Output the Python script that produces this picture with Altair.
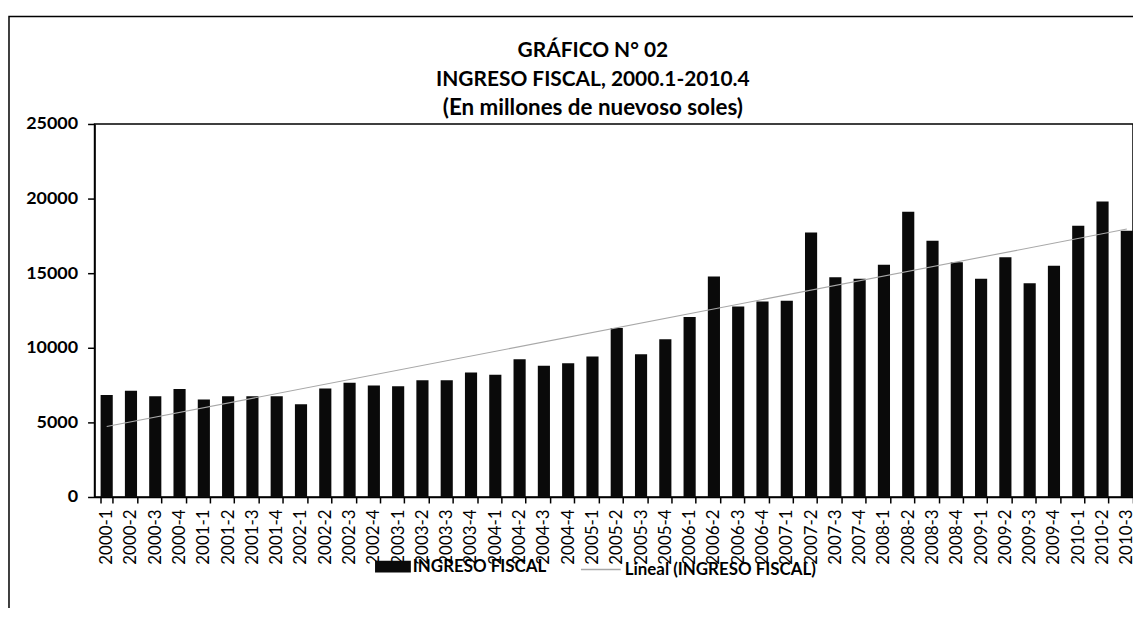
import altair as alt
import pandas as pd

periodos = [
    "2000-1", "2000-2", "2000-3", "2000-4",
    "2001-1", "2001-2", "2001-3", "2001-4",
    "2002-1", "2002-2", "2002-3", "2002-4",
    "2003-1", "2003-2", "2003-3", "2003-4",
    "2004-1", "2004-2", "2004-3", "2004-4",
    "2005-1", "2005-2", "2005-3", "2005-4",
    "2006-1", "2006-2", "2006-3", "2006-4",
    "2007-1", "2007-2", "2007-3", "2007-4",
    "2008-1", "2008-2", "2008-3", "2008-4",
    "2009-1", "2009-2", "2009-3", "2009-4",
    "2010-1", "2010-2", "2010-3",
]
ingreso_fiscal = [
    6830, 7120, 6760, 7230,
    6540, 6760, 6760, 6760,
    6210, 7275, 7650, 7475,
    7430, 7830, 7830, 8340,
    8190, 9230, 8790, 8970,
    9410, 11320, 9570, 10570,
    12060, 14770, 12770, 13100,
    13160, 17730, 14730, 14620,
    15570, 19110, 17180, 15730,
    14620, 16060, 14330, 15490,
    18180, 19800, 17840,
]
y_ticks = [0, 5000, 10000, 15000, 20000, 25000]
serie_barras = "INGRESO FISCAL"
serie_linea = "Lineal (INGRESO FISCAL)"
titulo = ["GRÁFICO N° 02", "INGRESO FISCAL, 2000.1-2010.4"]
subtitulo = "(En millones de nuevoso soles)"

df = pd.DataFrame({
    "periodo": periodos,
    "i": list(range(len(periodos))),
    "valor": ingreso_fiscal,
    "serie": [serie_barras] * len(periodos),
})

RANGE = [0, 1050]
FONT = "Lato"

frame = alt.Chart(pd.DataFrame({"a": [0]})).mark_rect(
    fillOpacity=0, stroke="black", strokeWidth=1.5
).encode(
    x=alt.value(-86), x2=alt.value(1200), y=alt.value(-108), y2=alt.value(700)
)

bars = alt.Chart(df).mark_bar().encode(
    x=alt.X(
        "periodo:N", sort=periodos, title=None,
        scale=alt.Scale(range=RANGE, paddingInner=0.5, paddingOuter=0.25),
        axis=alt.Axis(
            labelAngle=270, labelFont=FONT, labelFontSize=17, labelColor="black",
            labelPadding=6, tickBand="extent", tickSize=6, tickColor="black",
            tickWidth=1.5, domainColor="black", domainWidth=1.5, labelOverlap=False,
        ),
    ),
    y=alt.Y(
        "valor:Q", title=None,
        scale=alt.Scale(domain=[0, 25000], nice=False),
        axis=alt.Axis(
            values=y_ticks, format="d", labelFont=FONT, labelFontSize=18,
            labelFontWeight="bold", labelColor="black", tickSize=7,
            tickColor="black", tickWidth=1.5, labelPadding=10, grid=False,
            domainColor="black", domainWidth=1.5,
        ),
    ),
    fill=alt.Fill(
        "serie:N", scale=alt.Scale(range=["#0a0a0a"]),
        legend=alt.Legend(
            title=None, orient="none", legendX=282, legendY=427,
            symbolType="M-1,-0.33H1V0.33H-1Z", symbolSize=1296,
            symbolStrokeWidth=0, labelFont=FONT, labelFontSize=17,
            labelFontWeight="bold", labelColor="black", labelOffset=2,
            labelLimit=0,
        ),
    ),
)

trend = alt.Chart(df).transform_regression(
    "i", "valor", extent=[0, 42]
).transform_calculate(
    serie2=f"'{serie_linea}'"
).mark_line(strokeWidth=1.1).encode(
    x=alt.X("i:Q", scale=alt.Scale(domain=[-0.5, 42.5], range=RANGE, nice=False, zero=False), axis=None),
    y=alt.Y("valor:Q"),
    stroke=alt.Stroke(
        "serie2:N", scale=alt.Scale(range=["#a8a8a8"]),
        legend=alt.Legend(
            title=None, orient="none", legendX=488, legendY=427,
            symbolType="stroke", symbolSize=1600, symbolStrokeWidth=1.5,
            symbolStrokeColor="#777777",
            labelFont=FONT, labelFontSize=17, labelFontWeight="bold",
            labelColor="black", labelOffset=3, labelLimit=0,
        ),
    ),
)

chart = alt.layer(frame, bars, trend).resolve_scale(
    x="independent", fill="independent", stroke="independent"
).properties(
    width=1044, height=375,
    autosize=alt.AutoSizeParams(type="none"),
    padding={"left": 87, "top": 115, "right": 0, "bottom": 110},
    title=alt.TitleParams(
        text=titulo, font=FONT, fontSize=21, fontWeight="bold", lineHeight=29,
        subtitle=subtitulo, subtitleFont=FONT, subtitleFontSize=22.5,
        subtitleFontWeight="bold", subtitleColor="black", subtitlePadding=7,
        anchor="middle", frame="group", dx=-21, offset=0, dy=104, color="black",
    ),
).configure_view(stroke="black", strokeWidth=1.5)

chart.save("out.html", embed_options={"renderer": "svg", "actions": False})
